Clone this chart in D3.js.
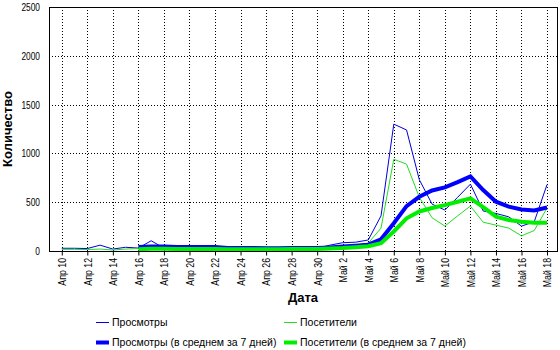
<!DOCTYPE html>
<html><head><meta charset="utf-8">
<script src="https://cdn.jsdelivr.net/npm/d3@7"></script>
<style>body{margin:0;background:#fff}svg{display:block}text{font-family:"Liberation Sans",Arial,sans-serif}</style>
</head><body><svg id="c" width="560" height="350"></svg>
<script>
const dates = ["2024-04-10","2024-04-11","2024-04-12","2024-04-13","2024-04-14","2024-04-15","2024-04-16","2024-04-17","2024-04-18","2024-04-19","2024-04-20","2024-04-21","2024-04-22","2024-04-23","2024-04-24","2024-04-25","2024-04-26","2024-04-27","2024-04-28","2024-04-29","2024-04-30","2024-05-01","2024-05-02","2024-05-03","2024-05-04","2024-05-05","2024-05-06","2024-05-07","2024-05-08","2024-05-09","2024-05-10","2024-05-11","2024-05-12","2024-05-13","2024-05-14","2024-05-15","2024-05-16","2024-05-17","2024-05-18"];
const views = [28,28,25,60,20,38,30,105,30,35,30,30,30,30,30,20,25,30,35,40,30,60,85,90,113,360,1300,1240,730,480,420,550,685,410,385,350,255,300,680];
const visitors = [17,17,15,20,10,20,25,55,20,20,20,20,20,20,20,15,20,20,25,25,20,40,55,60,80,235,940,890,550,340,255,360,460,295,265,235,155,210,440];
const viewsAvg = [null,null,null,null,null,null,40,45,45,40,40,42,40,32,31,30,28,28,30,30,31,35,45,55,65,120,285,460,555,620,652,705,765,625,505,455,425,415,445];
const visitorsAvg = [null,null,null,null,null,null,18,22,22,20,20,20,20,18,18,18,18,18,20,20,20,25,30,38,48,80,200,335,405,440,470,505,540,450,352,318,300,290,290];
const monthNames = ["Янв","Фев","Мар","Апр","Май","Июн","Июл","Авг","Сен","Окт","Ноя","Дек"];
const yTicks = [0,500,1000,1500,2000,2500];
const legendLabels = ["Просмотры","Посетители","Просмотры (в среднем за 7 дней)","Посетители (в среднем за 7 дней)"];

const parse = d3.utcParse("%Y-%m-%d");
const D = dates.map(parse);
const svg = d3.select("#c");
const L = 49, R = 557, T = 7, B = 251;
const day = 864e5;
const x = d3.scaleUtc().domain([new Date(D[0]-day), new Date(+D[D.length-1]+day)]).range([L, L + 40*12.77]);
const y = d3.scaleLinear().domain([0,2500]).range([B,T]);

const xt = D.filter((d,i)=>i%2===0);
// grid
svg.append("g").selectAll("line").data(xt).join("line")
  .attr("x1",d=>Math.round(x(d))+0.5).attr("x2",d=>Math.round(x(d))+0.5).attr("y1",T).attr("y2",B)
  .attr("stroke","#000").attr("stroke-dasharray","1,2");
svg.append("g").selectAll("line").data(yTicks.slice(1,-1)).join("line")
  .attr("x1",L).attr("x2",R).attr("y1",d=>Math.round(y(d))+0.5).attr("y2",d=>Math.round(y(d))+0.5)
  .attr("stroke","#000").attr("stroke-dasharray","1,2");

// y axis labels
svg.append("g").selectAll("text").data(yTicks).join("text")
  .attr("transform",d=>`translate(40,${y(d)+4}) scale(0.76,1)`).attr("text-anchor","end").attr("font-size",11).text(d=>d);

// x axis
const xa = svg.append("g").attr("transform",`translate(0,${B+0.5})`)
  .call(d3.axisBottom(x).tickValues(xt).tickSize(4).tickSizeOuter(0)
    .tickFormat(d=>monthNames[d.getUTCMonth()]+" "+d.getUTCDate()));
xa.select(".domain").remove();
xa.selectAll("line").attr("stroke","#000");
xa.selectAll("text").attr("font-size",11).attr("fill","#000")
  .attr("font-family","'Liberation Sans',Arial,sans-serif")
  .attr("transform","rotate(-90) scale(0.8,1)").attr("text-anchor","end").attr("x",-8).attr("y",0).attr("dy","0.35em");

// lines
const mk = arr => d3.line().defined((d,i)=>arr[i]!=null).x((d,i)=>x(D[i])).y((d,i)=>y(arr[i]))(arr);
svg.append("path").attr("d",mk(views)).attr("fill","none").attr("stroke","#0000dd").attr("stroke-width",1);
svg.append("path").attr("d",mk(visitors)).attr("fill","none").attr("stroke","#22dd22").attr("stroke-width",1);
svg.append("path").attr("d",mk(viewsAvg)).attr("fill","none").attr("stroke","#0000ff").attr("stroke-width",4);
svg.append("path").attr("d",mk(visitorsAvg)).attr("fill","none").attr("stroke","#00ee00").attr("stroke-width",4);

// frame
svg.append("rect").attr("x",L+0.5).attr("y",T+0.5).attr("width",R-L).attr("height",B-T)
  .attr("fill","none").attr("stroke","#000");

// axis titles
svg.append("text").attr("x",(L+R)/2).attr("y",302).attr("text-anchor","middle")
  .attr("font-size",13).attr("font-weight","bold").text("Дата");
svg.append("text").attr("transform",`translate(12,${(T+B)/2}) rotate(-90)`).attr("text-anchor","middle")
  .attr("font-size",13).attr("font-weight","bold").text("Количество");

// legend
const lg = [
 {x:96,y:322,c:"#0000dd",w:1},{x:284,y:322,c:"#22dd22",w:1},
 {x:96,y:342,c:"#0000ff",w:4},{x:284,y:342,c:"#00ee00",w:4}];
lg.forEach((l,i)=>{
  svg.append("line").attr("x1",l.x).attr("x2",l.x+13).attr("y1",l.y+0.5).attr("y2",l.y+0.5)
    .attr("stroke",l.c).attr("stroke-width",l.w);
  svg.append("text").attr("x",l.x+16).attr("y",l.y+4).attr("font-size",10.5).text(legendLabels[i]);
});
</script></body></html>
